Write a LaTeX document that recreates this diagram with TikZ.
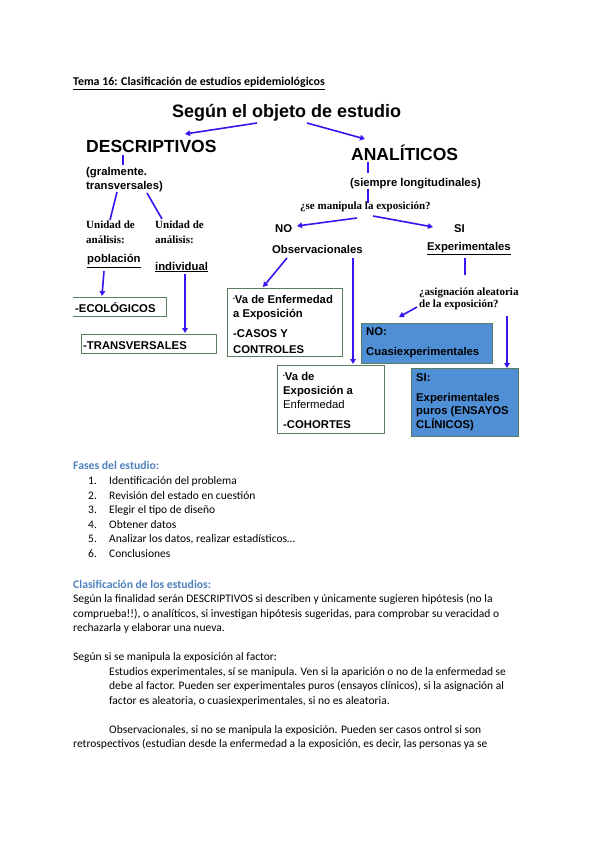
\documentclass[tikz,border=0pt]{standalone}
\usepackage{fontspec}
\setmainfont{Carlito}
\newfontfamily\arialfont{Liberation Sans}
\newfontfamily\timesfont{Liberation Serif}
\usetikzlibrary{arrows.meta}
\definecolor{arrowblue}{RGB}{55,20,240}
\definecolor{boxedge}{RGB}{90,125,95}
\definecolor{boxblue}{RGB}{79,143,214}
\definecolor{headblue}{RGB}{79,129,189}
\newcommand{\smalldot}{\raisebox{2.5pt}{\fontsize{5}{5}\selectfont\textbullet}}

\begin{document}
\begin{tikzpicture}[x=1pt,y=-1pt,
  diagText/.style={font=\arialfont\bfseries\fontsize{11.3}{14}\selectfont,
                   inner sep=0pt, anchor=west, align=left},
  quesText/.style={font=\timesfont\bfseries\fontsize{11}{12.5}\selectfont,
                   inner sep=0pt, anchor=west, align=left},
  greenBox/.style={draw=boxedge, line width=0.9pt, inner sep=0pt,
                   anchor=north west},
  blueBox/.style={greenBox, fill=boxblue},
  bodyText/.style={font=\fontsize{11.5}{14.5}\selectfont, inner sep=0pt,
                   anchor=base west},
  headText/.style={bodyText, font=\bfseries\fontsize{11.7}{14.5}\selectfont,
                   text=headblue},
  blueArrow/.style={draw=arrowblue, line width=1.6pt,
                    -{Triangle[length=5pt,width=5.5pt]}},
  blueLine/.style={draw=arrowblue, line width=1.6pt}
]
  \useasboundingbox[fill=white] (0,0) rectangle (599,848);

  % Page title
  \node[bodyText, font=\bfseries\fontsize{11.9}{14.5}\selectfont] (tema) at (73,86)
    {\underline{Tema 16: Clasificación de estudios epidemiológicos}};

  % Top of the scheme
  \node[diagText, font=\arialfont\bfseries\fontsize{18}{20}\selectfont] (objeto)
    at (172,113) {Según el objeto de estudio};
  \node[diagText, font=\arialfont\bfseries\fontsize{17.5}{19}\selectfont] (desc)
    at (86,146) {DESCRIPTIVOS};
  \node[diagText, font=\arialfont\bfseries\fontsize{17.5}{19}\selectfont] (anal)
    at (351,153) {ANALÍTICOS};
  \draw[blueArrow] ([shift={(85,10)}]objeto.west) -- ([shift={(99,-12)}]desc.west);
  \draw[blueArrow] ([shift={(135,10)}]objeto.west) -- ([shift={(14,-14)}]anal.west);

  % Descriptive branch
  \node[diagText] (descNote) at (86,180) {(gralmente.\\transversales)};
  \node[quesText, font=\timesfont\bfseries\fontsize{11}{15}\selectfont] (uniPob)
    at (86,232.5) {Unidad de\\análisis:};
  \node[quesText, font=\timesfont\bfseries\fontsize{11}{15}\selectfont] (uniInd)
    at (155,232.5) {Unidad de\\análisis:};
  \node[diagText] (pob) at (87,261) {\underline{población}};
  \node[diagText] (ind) at (155,267) {\underline{individual}};
  \draw[blueLine] ([shift={(37,9)}]desc.west) -- ([shift={(37,-15)}]descNote.west);
  \draw[blueLine] ([shift={(31,12)}]descNote.west) -- ([shift={(24,-12.5)}]uniPob.west);
  \draw[blueLine] ([shift={(61,13)}]descNote.west) -- ([shift={(7,-13.5)}]uniInd.west);

  % ECOLOGICOS (open on the left) and TRANSVERSALES
  \node[minimum width=93pt, minimum height=19pt, inner sep=0pt,
        anchor=north west] (eco) at (73,297) {};
  \draw[boxedge, line width=0.9pt] (eco.north west) -- (eco.north east)
    -- (eco.south east) -- (eco.south west);
  \node[diagText] (ecoTxt) at (75,308) {-ECOLÓGICOS};
  \node[greenBox, minimum width=135pt, minimum height=19pt] (trans) at (81,334) {};
  \node[diagText] (transTxt) at (83,346) {-TRANSVERSALES};
  \draw[blueArrow] ([shift={(17,10)}]pob.west) -- ([shift={(29,-1)}]eco.north west);
  \draw[blueArrow] ([shift={(30,7)}]ind.west) -- ([shift={(104,-1)}]trans.north west);

  % Analytical branch
  \node[diagText] (analNote) at (350,184) {(siempre longitudinales)};
  \node[quesText] (manip) at (300,207) {¿se manipula la exposición?};
  \node[diagText] (no) at (275,229) {NO};
  \node[diagText] (si) at (454,229) {SI};
  \node[diagText] (obs) at (272,249) {Observacionales};
  \node[diagText] (exp) at (427,249) {\underline{Experimentales}};
  \draw[blueLine] ([shift={(17,9)}]anal.west) -- ([shift={(18,-11)}]analNote.west);
  \draw[blueLine] ([shift={(18,5)}]analNote.west) -- ([shift={(68,-4)}]manip.west);
  \draw[blueArrow] ([shift={(57,11)}]manip.west) -- ([shift={(22,-3)}]no.west);
  \draw[blueArrow] ([shift={(73,9)}]manip.west) -- ([shift={(-21,-2)}]si.west);

  % Observational studies
  \node[greenBox, minimum width=115pt, minimum height=68pt] (casos) at (227,288) {};
  \node[diagText] (casosTxt) at (233,324)
    {\smalldot Va de Enfermedad\\a Exposición\\[6pt]-CASOS Y\\[2pt]CONTROLES};
  \node[greenBox, minimum width=107pt, minimum height=68pt] (coh) at (277,365) {};
  \node[diagText] (cohTxt) at (283,400)
    {\smalldot Va de\\Exposición a\\\mdseries Enfermedad\\[6pt]-COHORTES};
  \draw[blueArrow] ([shift={(15,9)}]obs.west) -- ([shift={(36,-1)}]casos.north west);
  \draw[blueArrow] ([shift={(81,9)}]obs.west) -- ([shift={(76,-1)}]coh.north west);

  % Experimental studies
  \node[quesText] (aleat) at (419,299) {¿asignación aleatoria\\de la exposición?};
  \node[blueBox, minimum width=131pt, minimum height=40pt] (cuasi) at (361,323) {};
  \node[diagText] (cuasiTxt) at (366,343) {NO:\\[6pt]Cuasiexperimentales};
  \node[blueBox, minimum width=107pt, minimum height=68pt] (puros) at (411,368) {};
  \node[diagText, font=\arialfont\bfseries\fontsize{11.3}{13.5}\selectfont] (purosTxt)
    at (416,402) {SI:\\[6pt]Experimentales\\puros (ENSAYOS\\CLÍNICOS)};
  \draw[blueLine] ([shift={(38,9)}]exp.west) -- ([shift={(46,-24)}]aleat.west);
  \draw[blueArrow] ([shift={(-2,8)}]aleat.west) -- ([shift={(38,-6)}]cuasi.north west);
  \draw[blueArrow] ([shift={(88,17)}]aleat.west) -- ([shift={(96,0)}]puros.north west);

  % Phases of the study
  \node[headText] (fases) at (73,469) {Fases del estudio:};
  \foreach \n/\txt in {1/Identificación del problema, 2/Revisión del estado en cuestión,
      3/Elegir el tipo de diseño, 4/Obtener datos,
      5/{Analizar los datos, realizar estadísticos…}, 6/Conclusiones} {
    \node[bodyText] (num\n) at (88,{484.5+(\n-1)*14.6}) {\n.};
    \node[bodyText] (fase\n) at (109,{484.5+(\n-1)*14.6}) {\txt};
  }

  % Classification text
  \node[headText] (clasif) at (73,588) {Clasificación de los estudios:};
  \node[bodyText] (parA1) at (73,602.5) {Según la finalidad serán DESCRIPTIVOS si describen y únicamente sugieren hipótesis (no la};
  \node[bodyText] (parA2) at (73,617) {comprueba!!), o analíticos, si investigan hipótesis sugeridas, para comprobar su veracidad o};
  \node[bodyText] (parA3) at (73,631.5) {rechazarla y elaborar una nueva.};
  \node[bodyText] (parB) at (73,660.5) {Según si se manipula la exposición al factor:};
  \node[bodyText] (parC1) at (109,675) {Estudios experimentales, sí se manipula. Ven si la aparición o no de la enfermedad se};
  \node[bodyText] (parC2) at (109,689.5) {debe al factor. Pueden ser experimentales puros (ensayos clínicos), si la asignación al};
  \node[bodyText] (parC3) at (109,704) {factor es aleatoria, o cuasiexperimentales, si no es aleatoria.};
  \node[bodyText] (parD1) at (109,733) {Observacionales, si no se manipula la exposición. Pueden ser casos ontrol si son};
  \node[bodyText] (parD2) at (73,747.5) {retrospectivos (estudian desde la enfermedad a la exposición, es decir, las personas ya se};
\end{tikzpicture}
\end{document}
